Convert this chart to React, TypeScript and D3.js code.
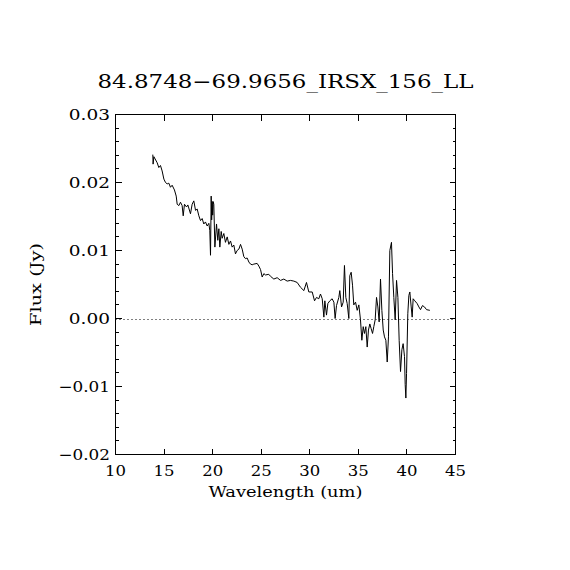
import * as d3 from 'd3';

// IRS LL spectrum
const wavelength = [
  13.84, 13.87, 13.95, 14.29, 14.46, 14.63, 14.8, 14.98, 15.15, 15.32,
  15.49, 15.66, 15.83, 16.07, 16.25, 16.35, 16.52, 16.69, 16.86, 16.97,
  17.1, 17.31, 17.45, 17.72, 17.89, 18.06, 18.24, 18.41, 18.58, 18.75,
  18.92, 19.09, 19.26, 19.44, 19.61, 19.71, 19.78, 19.85, 19.9, 19.95,
  20.0, 20.05, 20.12, 20.23, 20.4, 20.53, 20.64, 20.74, 20.88, 20.98,
  21.15, 21.32, 21.5, 21.67, 21.84, 22.01, 22.18, 22.35, 22.52, 22.7,
  22.87, 23.04, 23.21, 23.38, 23.55, 23.73, 23.9, 24.07, 24.24, 24.58,
  24.76, 24.93, 25.1, 25.27, 25.44, 25.78, 25.96, 26.3, 26.64, 26.99,
  27.33, 27.67, 28.01, 28.36, 28.7, 29.04, 29.39, 29.66, 29.9, 30.25,
  30.49, 30.69, 30.93, 31.1, 31.28, 31.45, 31.55, 31.72, 31.86, 32.06,
  32.3, 32.48, 32.61, 32.75, 32.99, 33.09, 33.27, 33.44, 33.57, 33.71,
  33.85, 34.02, 34.12, 34.26, 34.4, 34.53, 34.71, 34.88, 35.05, 35.22,
  35.36, 35.5, 35.63, 35.77, 35.91, 36.04, 36.18, 36.32, 36.46, 36.59,
  36.73, 36.87, 37.01, 37.14, 37.28, 37.42, 37.56, 37.69, 37.83, 37.97,
  38.1, 38.24, 38.41, 38.52, 38.65, 38.79, 38.93, 39.07, 39.2, 39.34,
  39.48, 39.61, 39.75, 39.82, 39.89, 39.96, 40.09, 40.2, 40.3, 40.44,
  40.54, 40.64, 40.81, 41.05, 41.23, 41.4, 41.6, 41.81, 42.02, 42.36,
];

const flux = [
  0.0241, 0.0227, 0.0238, 0.0229, 0.0222, 0.0225, 0.0217, 0.0205, 0.02, 0.0198,
  0.0199, 0.0193, 0.0196, 0.0189, 0.018, 0.0168, 0.0166, 0.0171, 0.0166, 0.0151,
  0.0168, 0.0164, 0.0167, 0.0154, 0.0168, 0.0173, 0.0159, 0.0161, 0.0151, 0.0144,
  0.0147, 0.0139, 0.0142, 0.0136, 0.014, 0.0129, 0.0093, 0.018, 0.0145, 0.0172,
  0.0152, 0.0172, 0.0168, 0.0105, 0.0139, 0.0115, 0.0132, 0.0105, 0.0128, 0.0118,
  0.0125, 0.0112, 0.012, 0.0109, 0.0114, 0.0105, 0.0108, 0.0095, 0.01, 0.0102,
  0.0109, 0.0102, 0.0091, 0.0088, 0.0089, 0.0083, 0.008, 0.0079, 0.008, 0.0081,
  0.0077, 0.0072, 0.0061, 0.0066, 0.0064, 0.0065, 0.0062, 0.0058, 0.006, 0.0056,
  0.0058, 0.0055, 0.0056, 0.0055, 0.0053, 0.0046, 0.0041, 0.0053, 0.0039, 0.0039,
  0.0026, 0.0031, 0.0029, 0.0036, 0.0029, 0.0002, 0.0026, 0.0005, 0.0022, 0.0026,
  0.0029, 0.0024, 0.0, 0.0019, 0.0031, 0.0041, 0.0017, 0.0024, 0.0078, 0.0031,
  0.0022, 0.0, 0.0063, 0.0068, 0.0049, 0.002, 0.0024, 0.0012, 0.002, -0.0002,
  -0.0032, -0.0012, -0.0022, -0.0012, -0.0042, -0.0017, -0.0008, -0.0015, -0.0022, -0.0012,
  -0.0002, 0.0031, 0.0017, -0.0005, 0.0058, 0.0012, -0.0017, -0.0027, -0.0032, -0.0064,
  -0.0027, 0.01, 0.0112, 0.0066, 0.0031, -0.0002, 0.0056, 0.0031, -0.0032, -0.0078,
  -0.0046, -0.0037, -0.0056, -0.0097, -0.0117, -0.0081, 0.0007, 0.0034, 0.0039, 0.0017,
  0.0002, 0.0029, 0.0026, 0.0022, 0.0017, 0.0013, 0.0019, 0.0017, 0.0013, 0.0012,
];

const xTicks = [10, 15, 20, 25, 30, 35, 40, 45];
const yTicks = [-0.02, -0.01, 0.0, 0.01, 0.02, 0.03];

const title = '84.8748\u221269.9656_IRSX_156_LL';
const xLabel = 'Wavelength (um)';
const yLabel = 'Flux (Jy)';

const W = 570;
const H = 570;
const left = 115.5;
const right = 455.5;
const top = 114.5;
const bottom = 454.5;
const font = "'DejaVu Serif', serif";

export default function App() {
  const x = d3.scaleLinear().domain([10, 45]).range([left, right]);
  const y = d3.scaleLinear().domain([-0.02, 0.03]).range([bottom, top]);

  const points = wavelength.map((w, i) => [w, flux[i]] as [number, number]);
  const line = d3
    .line<[number, number]>()
    .x((d) => x(d[0]))
    .y((d) => y(d[1]));

  // minor ticks every 0.002 on the flux axis
  const yMinor = d3.range(-0.02, 0.0301, 0.002).map((v) => +v.toFixed(3));

  const fmtY = (v: number) => {
    const s = Math.abs(v).toFixed(2);
    return v < 0 ? '\u2212' + s : s;
  };

  return (
    <svg
      width={W}
      height={H}
      style={{ position: 'absolute', left: 0, top: 0, background: '#fff' }}
    >
      <rect x={0} y={0} width={W} height={H} fill="#fff" />

      {/* title */}
      <text
        x={(left + right) / 2}
        y={88}
        textAnchor="middle"
        fontFamily={font}
        fontSize={19}
        textLength={376}
        lengthAdjust="spacingAndGlyphs"
      >
        {title}
      </text>

      {/* zero line */}
      <line
        x1={left}
        x2={right}
        y1={Math.round(y(0)) + 0.5}
        y2={Math.round(y(0)) + 0.5}
        stroke="#000"
        strokeWidth={1}
        strokeDasharray="1,3"
      />

      {/* spectrum */}
      <path d={line(points) ?? ''} fill="none" stroke="#000" strokeWidth={1} />

      {/* frame */}
      <rect
        x={left}
        y={top}
        width={right - left}
        height={bottom - top}
        fill="none"
        stroke="#000"
        strokeWidth={1}
        shapeRendering="crispEdges"
      />

      {/* x ticks, top and bottom */}
      {xTicks.map((t) => (
        <g key={'x' + t}>
          <line x1={x(t)} x2={x(t)} y1={bottom} y2={bottom - 6} stroke="#000" shapeRendering="crispEdges" />
          <line x1={x(t)} x2={x(t)} y1={top} y2={top + 6} stroke="#000" shapeRendering="crispEdges" />
          <text
            x={x(t)}
            y={476}
            textAnchor="middle"
            fontFamily={font}
            fontSize={15}
            textLength={String(t).length * 10.5}
            lengthAdjust="spacingAndGlyphs"
          >
            {t}
          </text>
        </g>
      ))}

      {/* y minor ticks */}
      {yMinor.map((t) => (
        <g key={'ym' + t}>
          <line x1={left} x2={left + 3} y1={y(t)} y2={y(t)} stroke="#000" shapeRendering="crispEdges" />
          <line x1={right} x2={right - 3} y1={y(t)} y2={y(t)} stroke="#000" shapeRendering="crispEdges" />
        </g>
      ))}

      {/* y major ticks */}
      {yTicks.map((t) => (
        <g key={'y' + t}>
          <line x1={left} x2={left + 6} y1={y(t)} y2={y(t)} stroke="#000" shapeRendering="crispEdges" />
          <line x1={right} x2={right - 6} y1={y(t)} y2={y(t)} stroke="#000" shapeRendering="crispEdges" />
          <text
            x={110}
            y={y(t) + 5}
            textAnchor="end"
            fontFamily={font}
            fontSize={15}
            textLength={fmtY(t).length * 10.3}
            lengthAdjust="spacingAndGlyphs"
          >
            {fmtY(t)}
          </text>
        </g>
      ))}

      {/* axis titles */}
      <text
        x={(left + right) / 2}
        y={497}
        textAnchor="middle"
        fontFamily={font}
        fontSize={15}
        textLength={154}
        lengthAdjust="spacingAndGlyphs"
      >
        {xLabel}
      </text>
      <text
        transform={`translate(41,${(top + bottom) / 2}) rotate(-90)`}
        textAnchor="middle"
        fontFamily={font}
        fontSize={15}
        textLength={83}
        lengthAdjust="spacingAndGlyphs"
      >
        {yLabel}
      </text>
    </svg>
  );
}
